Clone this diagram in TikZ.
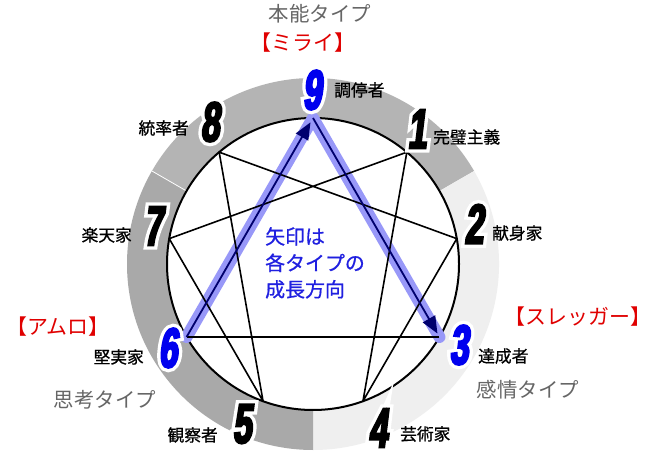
\documentclass[tikz,border=0pt]{standalone}
\usepackage{fontspec}
\usetikzlibrary{arrows.meta,calc}
\newfontfamily\jpf{Noto Sans CJK JP}
\newfontfamily\jpm[FakeBold=0.7]{Noto Sans CJK JP}
\newfontfamily\numf[FakeStretch=0.6,FakeSlant=0.12,FakeBold=4]{Liberation Sans Bold}
\newfontfamily\numo[FakeStretch=0.6,FakeSlant=0.12,FakeBold=16]{Liberation Sans Bold}
\definecolor{gutgray}{HTML}{B4B4B4}
\definecolor{headgray}{HTML}{A9A9A9}
\definecolor{heartgray}{HTML}{EFEFEF}
\definecolor{hilite}{HTML}{9898F8}
\definecolor{navy}{HTML}{00006E}
\definecolor{numblue}{HTML}{0000EE}
\definecolor{grouptxt}{HTML}{666666}
\definecolor{redtxt}{HTML}{E00000}
\definecolor{centertxt}{HTML}{2020E0}
% digit with white outline (stroked white copy behind the coloured digit)
\newcommand{\ennum}[2]{%
  \makebox[0pt][c]{\numo\color{white}#2}%
  \makebox[0pt][c]{\numf\color{#1}#2}}
\tikzset{
  numnode/.style={inner sep=0pt, font=\fontsize{56}{56}\selectfont},
  typelabel/.style={inner sep=0pt, font=\jpm\fontsize{16.8}{17}\selectfont, text=black},
  grouplabel/.style={inner sep=0pt, font=\jpf\fontsize{20.5}{21}\selectfont, text=grouptxt},
  nicklabel/.style={inner sep=0pt, font=\jpf\fontsize{21}{22}\selectfont, text=redtxt},
  enline/.style={line width=1.6bp, black},
  arrowline/.style={line width=1.8bp, navy, -{Triangle[length=17bp,width=14bp]}},
}
\begin{document}
\begin{tikzpicture}[x=1bp,y=-1bp]
\useasboundingbox (0,0) rectangle (662,464);
\fill[white] (0,0) rectangle (662,464);
\coordinate (C) at (313,264);
% ring sectors
\fill[gutgray] (C) -- ($(C)+(-150:186)$) arc[start angle=-150,end angle=-30,radius=186] -- cycle;
\fill[heartgray] (C) -- ($(C)+(-30:186)$) arc[start angle=-30,end angle=90,radius=186] -- cycle;
\fill[headgray] (C) -- ($(C)+(90:186)$) arc[start angle=90,end angle=210,radius=186] -- cycle;
\draw[white, line width=0.8bp] (C) -- ($(C)+(-150:186)$);
% inner circle
\draw[fill=white, line width=2bp] (C) circle[radius=146];
% points
\foreach \k in {1,...,9} {
  \coordinate (P\k) at ($(C)+({40*\k-90}:146)$);
}
% highlight
\draw[hilite, line width=12bp, line cap=round, line join=round] (P6) -- (P9) -- (P3);
% enneagram lines
\draw[enline] (P3) -- (P6);
\draw[enline, line join=round] (P1) -- (P4) -- (P2) -- (P8) -- (P5) -- (P7) -- cycle;
% arrows
\draw[arrowline, shorten >=5bp] (P6) -- (P9);
\draw[arrowline, shorten >=4bp] (P9) -- (P3);
% numbers
\node[numnode] (n9) at (312,90) {\ennum{numblue}{9}};
\node[numnode] (n1) at (417,129) {\ennum{black}{1}};
\node[numnode] (n2) at (474,224) {\ennum{black}{2}};
\node[numnode] (n3) at (459,345) {\ennum{numblue}{3}};
\node[numnode] (n4) at (378,428) {\ennum{black}{4}};
\node[numnode] (n5) at (242,424) {\ennum{black}{5}};
\node[numnode] (n6) at (168,348) {\ennum{numblue}{6}};
\node[numnode] (n7) at (153,226) {\ennum{black}{7}};
\node[numnode] (n8) at (210,122) {\ennum{black}{8}};
% type labels
\node[typelabel, anchor=west] (l9) at (334,90) {調停者};
\node[typelabel, anchor=west] (l1) at (433,137) {完璧主義};
\node[typelabel, anchor=west] (l2) at (492,233) {献身家};
\node[typelabel, anchor=west] (l3) at (478,356) {達成者};
\node[typelabel, anchor=west] (l4) at (400,434) {芸術家};
\node[typelabel, anchor=east] (l5) at (218,435) {観察者};
\node[typelabel, anchor=east] (l6) at (144,357) {堅実家};
\node[typelabel, anchor=east] (l7) at (132,235) {楽天家};
\node[typelabel, anchor=east] (l8) at (189,128) {統率者};
% group labels
\node[grouplabel] (g1) at (320,14) {本能タイプ};
\node[grouplabel] (g2) at (105,400) {思考タイプ};
\node[grouplabel] (g3) at (528,390) {感情タイプ};
\node[nicklabel] (k1) at (303,43) {【ミライ】};
\node[nicklabel] (k2) at (58,327) {【アムロ】};
\node[nicklabel] (k3) at (578,317) {【スレッガー】};
% center text
\node[inner sep=0pt, anchor=north west, align=left, text=centertxt,
      font=\jpm\fontsize{20}{26.5}\selectfont] (ct) at (265,227) {矢印は\\各タイプの\\成長方向};
\end{tikzpicture}
\end{document}
